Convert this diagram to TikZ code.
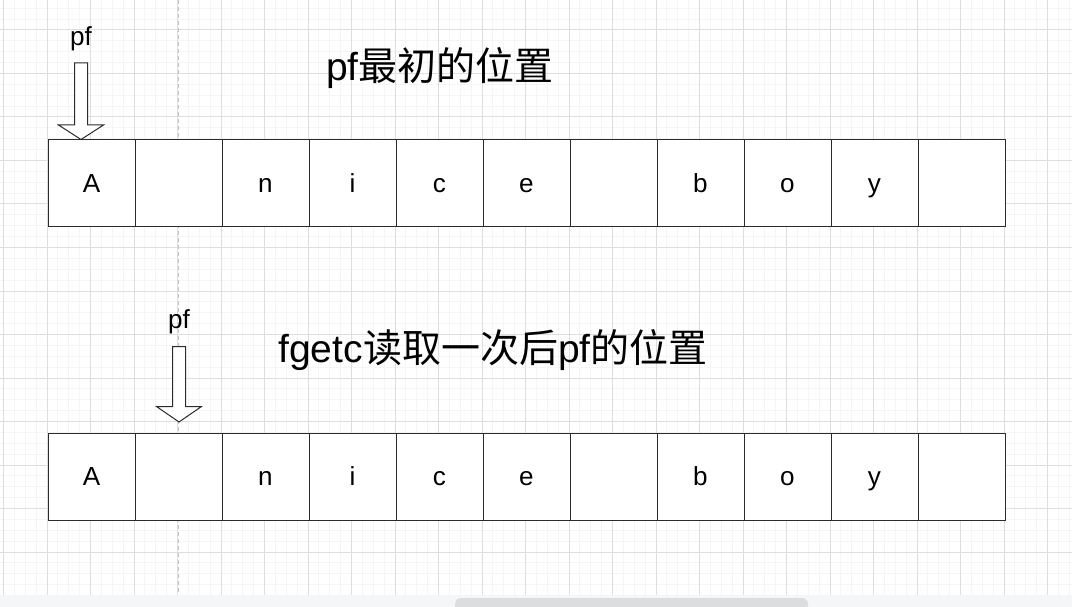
\documentclass[tikz,border=0pt]{standalone}
\usepackage{fontspec}
\setmainfont{Liberation Sans}
\newfontfamily\cjk{Noto Sans CJK SC}
\usepackage{xcolor}
\usepackage{tikz}

\definecolor{gridminor}{HTML}{F5F5F5}
\definecolor{gridmajor}{HTML}{DEDEDE}
\definecolor{guideline}{HTML}{C4C4C4}
\definecolor{scrollbg}{HTML}{F5F6F8}
\definecolor{scrollthumb}{HTML}{DCDDDF}
\definecolor{stroke}{HTML}{2B2B2B}

\tikzset{
	cell/.style={draw=stroke, fill=white, line width=1pt, minimum width=87pt, minimum height=87pt,
		inner sep=0pt, text height=23.6pt, text depth=5.5pt, font=\fontsize{26.1}{31}\selectfont},
	pflabel/.style={anchor=base, inner sep=0pt, font=\fontsize{26.1}{31}\selectfont},
	title/.style={anchor=base, inner sep=0pt, font=\fontsize{39}{47}\selectfont},
	pfarrow/.style={draw=stroke, fill=white, line width=1pt, line join=miter},
}

\begin{document}
\begin{tikzpicture}[x=1pt,y=-1pt]
	\useasboundingbox (0,0) rectangle (1072,607);
	%
	%  BACKGROUND GRID
	%
	\foreach \k in {0,...,98}
		\draw[gridminor, line width=1pt] (3.5+\k*10.875,0) -- (3.5+\k*10.875,595);
	\foreach \k in {0,...,53}
		\draw[gridminor, line width=1pt] (0,8.25+\k*10.875) -- (1072,8.25+\k*10.875);
	\foreach \k in {0,...,24}
		\draw[gridmajor, line width=1pt] (3.5+\k*43.5,0) -- (3.5+\k*43.5,595);
	\foreach \k in {0,...,12}
		\draw[gridmajor, line width=1pt] (0,30+\k*43.5) -- (1072,30+\k*43.5);
	\draw[guideline, line width=1pt, dash pattern=on 4pt off 3pt] (178.5,0) -- (178.5,595);
	\fill[scrollbg] (0,595) rectangle (1072,607);
	\fill[scrollthumb, rounded corners=6pt] (455,598) rectangle (808,616);
	%
	%  FIRST ROW
	%
	\node[cell] (a1) at (91.5,183.5) {A};
	\node[cell] (a2) at (178.5,183.5) {};
	\node[cell] (a3) at (265.5,183.5) {n};
	\node[cell] (a4) at (352.5,183.5) {i};
	\node[cell] (a5) at (439.5,183.5) {c};
	\node[cell] (a6) at (526.5,183.5) {e};
	\node[cell] (a7) at (613.5,183.5) {};
	\node[cell] (a8) at (700.5,183.5) {b};
	\node[cell] (a9) at (787.5,183.5) {o};
	\node[cell] (a10) at (874.5,183.5) {y};
	\node[cell] (a11) at (961.5,183.5) {};
	%
	%  SECOND ROW
	%
	\node[cell] (b1) at (91.5,476.5) {A};
	\node[cell] (b2) at (178.5,476.5) {};
	\node[cell] (b3) at (265.5,476.5) {n};
	\node[cell] (b4) at (352.5,476.5) {i};
	\node[cell] (b5) at (439.5,476.5) {c};
	\node[cell] (b6) at (526.5,476.5) {e};
	\node[cell] (b7) at (613.5,476.5) {};
	\node[cell] (b8) at (700.5,476.5) {b};
	\node[cell] (b9) at (787.5,476.5) {o};
	\node[cell] (b10) at (874.5,476.5) {y};
	\node[cell] (b11) at (961.5,476.5) {};
	%
	%  POINTERS
	%
	\node[pflabel] (pf1) at (81,46) {pf};
	\draw[pfarrow] (74.5,63) -- (87.5,63) -- (87.5,125) -- (103.5,125) -- (81,139.5)
		-- (58.5,125) -- (74.5,125) -- cycle;
	\node[pflabel] (pf2) at (179,328) {pf};
	\draw[pfarrow] (172.5,346.5) -- (185.5,346.5) -- (185.5,406.5) -- (201.5,406.5) -- (179,422)
		-- (156.5,406.5) -- (172.5,406.5) -- cycle;
	%
	%  TITLES
	%
	\node[title] (t1) at (440,81) {pf{\cjk 最初的位置}};
	\node[title] (t2) at (493,362) {fgetc{\cjk 读取一次后}pf{\cjk 的位置}};
\end{tikzpicture}
\end{document}
